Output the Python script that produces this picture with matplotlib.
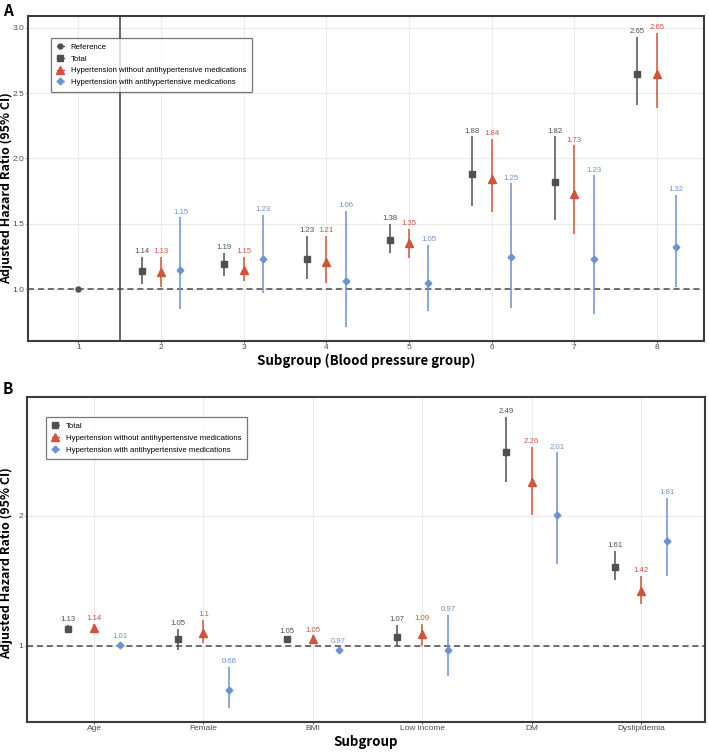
import matplotlib
matplotlib.use("Agg")
import matplotlib.pyplot as plt
from matplotlib.lines import Line2D

# ── data: panel A (blood pressure groups) ─────────────────────────────────────
bp_groups = [2, 3, 4, 5, 6, 7, 8]
a_total    = [1.14, 1.19, 1.23, 1.38, 1.88, 1.82, 2.65]
a_total_lo = [1.04, 1.10, 1.08, 1.28, 1.64, 1.53, 2.41]
a_total_hi = [1.25, 1.28, 1.41, 1.50, 2.17, 2.17, 2.93]
a_nomed    = [1.13, 1.15, 1.21, 1.35, 1.84, 1.73, 2.65]
a_nomed_lo = [1.02, 1.06, 1.05, 1.24, 1.59, 1.42, 2.39]
a_nomed_hi = [1.25, 1.25, 1.41, 1.46, 2.15, 2.10, 2.96]
a_med      = [1.15, 1.23, 1.06, 1.05, 1.25, 1.23, 1.32]
a_med_lo   = [0.85, 0.97, 0.71, 0.83, 0.86, 0.81, 1.02]
a_med_hi   = [1.55, 1.57, 1.60, 1.34, 1.81, 1.87, 1.72]
ref_group, ref_value = 1, 1.0

# ── data: panel B (subgroups) ─────────────────────────────────────────────────
subgroups = ["Age", "Female", "BMI", "Low income", "DM", "Dyslipidemia"]
b_total    = [1.13, 1.05, 1.05, 1.07, 2.49, 1.61]
b_total_lo = [1.11, 0.97, 1.03, 1.00, 2.26, 1.51]
b_total_hi = [1.16, 1.13, 1.07, 1.16, 2.76, 1.73]
b_nomed    = [1.14, 1.10, 1.05, 1.09, 2.26, 1.42]
b_nomed_lo = [1.12, 1.02, 1.03, 1.00, 2.01, 1.32]
b_nomed_hi = [1.17, 1.20, 1.08, 1.17, 2.53, 1.54]
b_med      = [1.01, 0.66, 0.97, 0.97, 2.01, 1.81]
b_med_lo   = [0.99, 0.52, 0.95, 0.77, 1.63, 1.54]
b_med_hi   = [1.03, 0.84, 0.99, 1.24, 2.49, 2.14]

# ── style ─────────────────────────────────────────────────────────────────────
GREY, RED, BLUE = "#505050", "#D0533A", "#6B93D3"
TICK_C = "#4D4D4D"
DODGE = 0.235
LW = 1.1
TITLE_FONT = ["Noto Sans CJK KR", "DejaVu Sans"]
plt.rcParams["font.family"] = ["Liberation Sans", "DejaVu Sans"]

fig = plt.figure(figsize=(7.09, 7.53), dpi=100)
W, H = 709, 753
axA = fig.add_axes([28 / W, 1 - 341 / H, 676 / W, 325 / H])
axB = fig.add_axes([27 / W, 1 - 722 / H, 678 / W, 325 / H])

# marker, size, colour, dodge
series_style = [
    ("s", 4.6, GREY, -DODGE),
    ("^", 6.2, RED, 0.0),
    ("D", 3.4, BLUE, DODGE),
]


def draw_series(ax, xs, est, lo, hi, marker, ms, color, dx):
    for x, e, l, h in zip(xs, est, lo, hi):
        xp = x + dx
        ax.plot([xp, xp], [l, h], color=color, lw=LW, zorder=3,
                solid_capstyle="butt")
        ax.plot(xp, e, marker=marker, ms=ms, color=color, mec=color,
                lw=0, zorder=4)
        ax.annotate(f"{e:g}", (xp, h), xytext=(0, 1.2),
                    textcoords="offset points", ha="center", va="bottom",
                    fontsize=5.6, color=color, zorder=5)


def style_axes(ax):
    for s in ax.spines.values():
        s.set_color("#3C3C3C")
        s.set_linewidth(1.5)
    ax.grid(True, color="#EBEBEB", lw=0.8, zorder=0)
    ax.set_axisbelow(True)
    ax.tick_params(colors=TICK_C, labelcolor=TICK_C, labelsize=6,
                   length=1.5, width=0.7, pad=1.0)
    ax.axhline(1.0, color="#4A4A4A", lw=1.1, ls=(0, (4, 2.5)), zorder=2)


def legend_handles(items):
    return [Line2D([0], [0], color=c, lw=0.9, marker=m, ms=s,
                   mec=c, label=lbl) for m, s, c, lbl in items]


LEG_KW = dict(loc="upper left", fontsize=5.6, frameon=True, fancybox=False,
              edgecolor="#555555", handlelength=0.9, handletextpad=0.9,
              labelspacing=0.55, borderpad=0.75, borderaxespad=0)

YLABEL = "Adjusted Hazard Ratio (95% CI)"

# ── panel A ───────────────────────────────────────────────────────────────────
style_axes(axA)
for (m, ms, c, dx), (est, lo, hi) in zip(series_style, [
        (a_total, a_total_lo, a_total_hi),
        (a_nomed, a_nomed_lo, a_nomed_hi),
        (a_med, a_med_lo, a_med_hi)]):
    draw_series(axA, bp_groups, est, lo, hi, m, ms, c, dx)
axA.plot(ref_group, ref_value, "o", ms=3.6, color=GREY, zorder=4)
axA.axvline(1.5, color="#3C3C3C", lw=1.1, zorder=2)
axA.set_xlim(0.39, 8.57)
axA.set_ylim(0.604, 3.09)
axA.set_xticks(range(1, 9))
axA.set_yticks([1.0, 1.5, 2.0, 2.5, 3.0])
axA.set_yticklabels(["1.0", "1.5", "2.0", "2.5", "3.0"])
axA.set_xlabel("Subgroup (Blood pressure group)", family=TITLE_FONT,
               fontweight="bold", fontsize=9.6, labelpad=1.5)
legA = axA.legend(handles=legend_handles([
    ("o", 3.6, GREY, "Reference"),
    ("s", 4.6, GREY, "Total"),
    ("^", 6.2, RED, "Hypertension without antihypertensive medications"),
    ("D", 3.4, BLUE, "Hypertension with antihypertensive medications")]),
    bbox_to_anchor=(0.034, 0.933), **LEG_KW)
legA.get_frame().set_linewidth(0.9)

# ── panel B ───────────────────────────────────────────────────────────────────
style_axes(axB)
xb = list(range(1, len(subgroups) + 1))
for (m, ms, c, dx), (est, lo, hi) in zip(series_style, [
        (b_total, b_total_lo, b_total_hi),
        (b_nomed, b_nomed_lo, b_nomed_hi),
        (b_med, b_med_lo, b_med_hi)]):
    draw_series(axB, xb, est, lo, hi, m, ms, c, dx)
axB.set_xlim(0.387, 6.585)
axB.set_ylim(0.414, 2.915)
axB.set_xticks(xb)
axB.set_xticklabels(subgroups)
axB.set_yticks([1, 2])
axB.set_xlabel("Subgroup", family=TITLE_FONT, fontweight="bold",
               fontsize=9.6, labelpad=1.5)
legB = axB.legend(handles=legend_handles([
    ("s", 4.6, GREY, "Total"),
    ("^", 6.2, RED, "Hypertension without antihypertensive medications"),
    ("D", 3.4, BLUE, "Hypertension with antihypertensive medications")]),
    bbox_to_anchor=(0.0276, 0.939), **LEG_KW)
legB.get_frame().set_linewidth(0.9)

# y-axis titles, placed in figure pixels (tight left margin)
for ycen in (188, 563):
    fig.text(6.0 / W, 1 - ycen / H, YLABEL, rotation=90, ha="center",
             va="center", family=TITLE_FONT, fontweight="bold", fontsize=9.0)

# panel letters
fig.text(3 / W, 1 - 3 / H, "A", fontsize=11, fontweight="bold",
         family=TITLE_FONT, va="top", ha="left")
fig.text(3 / W, 1 - 381 / H, "B", fontsize=11, fontweight="bold",
         family=TITLE_FONT, va="top", ha="left")

fig.savefig("out.png", dpi=100, facecolor="white")
